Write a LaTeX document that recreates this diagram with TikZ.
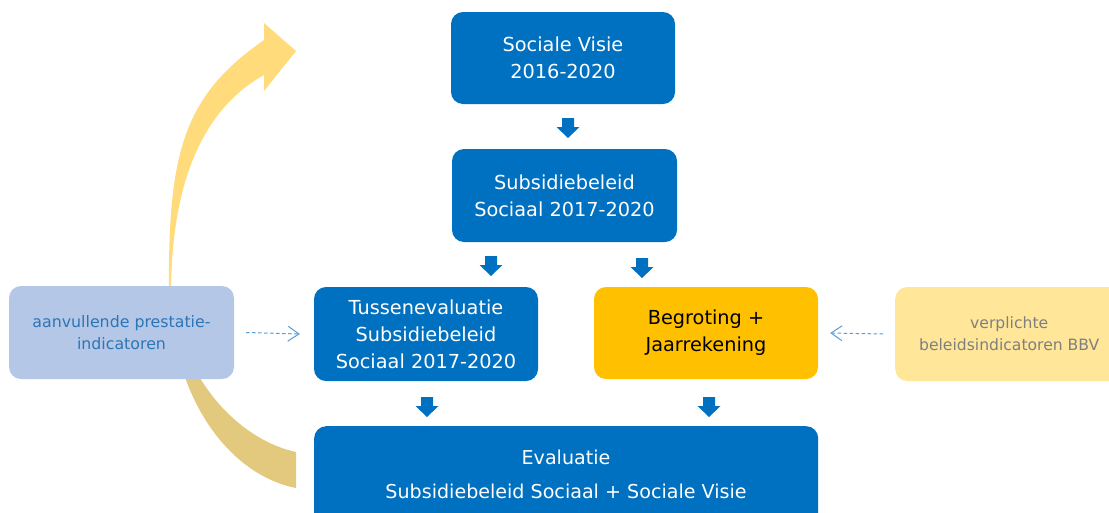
\documentclass[tikz,border=0pt]{standalone}
\usepackage{fontspec}
\setmainfont{DejaVu Sans}
\usetikzlibrary{arrows.meta,calc}
\definecolor{boxblue}{HTML}{0070C0}
\definecolor{lightblue}{HTML}{B4C7E7}
\definecolor{lbtext}{HTML}{2E75B6}
\definecolor{lightyellow}{HTML}{FFE699}
\definecolor{greytext}{HTML}{7F7F7F}
\definecolor{orangebox}{HTML}{FFC000}
\definecolor{arrowtop}{HTML}{FFDB7B}
\definecolor{arrowbot}{HTML}{E3C97E}
\definecolor{dashblue}{HTML}{5B9BD5}
\tikzset{
  box/.style={rounded corners=12pt, inner sep=0pt, align=center},
  bluebox/.style={box, fill=boxblue, text=white, font=\fontsize{19.3}{27}\selectfont},
  sidebox/.style={box, font=\fontsize{15.8}{22}\selectfont},
  dasharrow/.style={dashblue, dashed, dash pattern=on 3.5pt off 2.5pt, line width=1pt, -{Straight Barb[length=11pt,width=15pt,line width=1pt]}},
  pics/blockarrow/.style={code={
    \fill[boxblue] (-6,0) -- (6,0) -- (6,9) -- (11.5,9) -- (0,20) -- (-11.5,9) -- (-6,9) -- cycle;
  }}
}
\begin{document}
\begin{tikzpicture}[x=1pt,y=-1pt]
\useasboundingbox (0,0) rectangle (1109,512);
\clip (0,0) rectangle (1109,512);
% big curved arrow (twisted ribbon)
\fill[arrowbot] (169,288) .. controls (172,400) and (230,475) .. (296,488)
  -- (296,452) .. controls (240,440) and (180,380) .. (171,290) -- cycle;
\fill[arrowtop] (169,288) .. controls (168,150) and (185,95) .. (264,40)
  -- (264,23) -- (296,51) -- (264,91) -- (264,75)
  .. controls (210,105) and (172,170) .. (171,290) -- cycle;
% boxes
\node[bluebox, minimum width=224pt, minimum height=92pt] (visie) at (563,58) {Sociale Visie\\2016-2020};
\node[bluebox, minimum width=225pt, minimum height=93pt] (subs) at (564.5,195.5) {Subsidiebeleid\\Sociaal 2017-2020};
\node[bluebox, minimum width=224pt, minimum height=94pt] (tussen) at (426,334) {Tussenevaluatie\\Subsidiebeleid\\Sociaal 2017-2020};
\node[box, fill=orangebox, text=black, font=\fontsize{19.3}{27}\selectfont, minimum width=224pt, minimum height=92pt] (begr) at (706,333) {Begroting +\\Jaarrekening};
\node[sidebox, fill=lightblue, text=lbtext, minimum width=225pt, minimum height=93pt] (aanv) at (121.5,332.5) {aanvullende prestatie-\\indicatoren};
\node[sidebox, fill=lightyellow, text=greytext, font=\fontsize{15.6}{22}\selectfont, minimum width=228pt, minimum height=94pt, anchor=west] (verpl) at (895,334) {verplichte\\beleidsindicatoren BBV};
\node[bluebox, minimum width=504pt, minimum height=100pt, anchor=north west] (eval) at (314,426) {};
\node[text=white, align=center, font=\fontsize{19.1}{34}\selectfont] (evaltext) at (566,474) {Evaluatie\\Subsidiebeleid Sociaal + Sociale Visie};
% small block arrows
\pic at (568,118) {blockarrow};
\pic at (491,256) {blockarrow};
\pic at (642,258) {blockarrow};
\pic at (427,397) {blockarrow};
\pic at (709,397) {blockarrow};
% dashed arrows
\draw[dasharrow] ([xshift=12pt]aanv.east) -- ([xshift=-14pt]tussen.west);
\draw[dasharrow] ([xshift=-12pt]verpl.west) -- ([xshift=12pt]begr.east);
\end{tikzpicture}
\end{document}
